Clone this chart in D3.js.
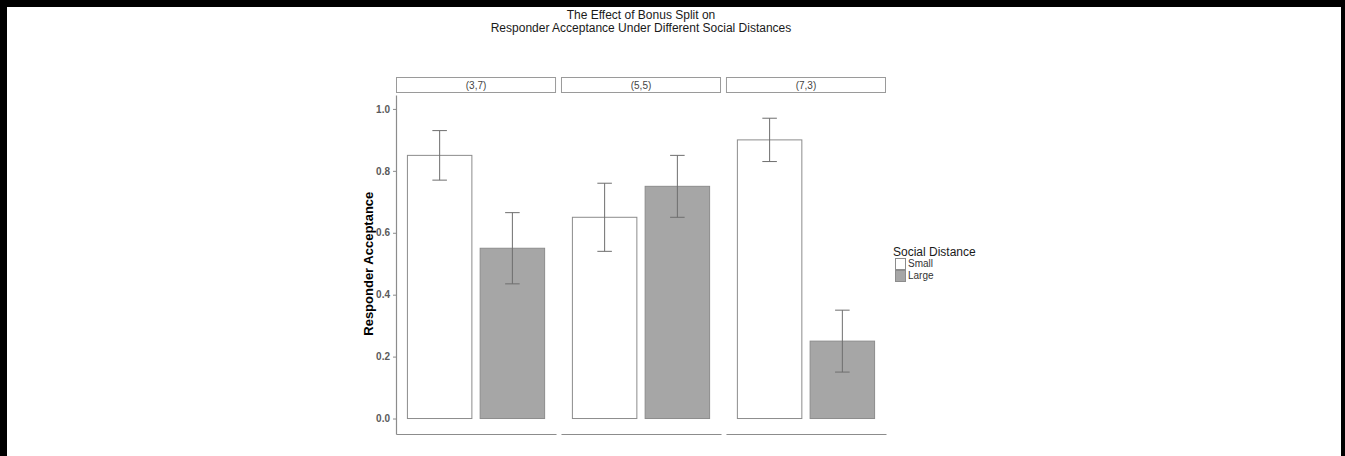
<!DOCTYPE html>
<html>
<head>
<meta charset="utf-8">
<title>Bonus Split and Responder Acceptance</title>
<script src="https://d3js.org/d3.v7.min.js"></script>
<style>
  body { margin: 0; background: #fff; }
  text { font-family: "Liberation Sans", Arial, sans-serif; }
</style>
</head>
<body>
<script>
// data
var splits = ["(3,7)", "(5,5)", "(7,3)"];
var distances = ["Small", "Large"];
var means = [[0.85, 0.55], [0.65, 0.75], [0.90, 0.25]];
var lower = [[0.77, 0.435], [0.54, 0.65], [0.83, 0.15]];
var upper = [[0.93, 0.665], [0.76, 0.85], [0.97, 0.35]];
var yTicks = [0, 0.2, 0.4, 0.6, 0.8, 1.0];
var titleLines = ["The Effect of Bonus Split on", "Responder Acceptance Under Different Social Distances"];

var w = 1345, h = 456;
var fills = { Small: "#ffffff", Large: "#a6a6a6" };

var svg = d3.select("body").append("svg")
  .attr("width", w)
  .attr("height", h);

// frame of the original image
svg.append("rect").attr("x", 0).attr("y", 0).attr("width", w).attr("height", 7).attr("fill", "#000");
svg.append("rect").attr("x", 0).attr("y", 0).attr("width", 7).attr("height", h).attr("fill", "#000");
svg.append("rect").attr("x", w - 4).attr("y", 0).attr("width", 4).attr("height", h).attr("fill", "#000");

var facet = d3.scaleBand()
  .domain(splits)
  .range([396, 886])
  .paddingInner(0.03);

var y = d3.scaleLinear()
  .domain([-0.05, 1.045])
  .range([434, 95]);

// rows for drawing
var rows = [];
splits.forEach(function(s, i) {
  distances.forEach(function(d, j) {
    rows.push({ split: s, dist: d, mean: means[i][j], lo: lower[i][j], hi: upper[i][j] });
  });
});

// title
svg.selectAll(".title")
  .data(titleLines)
  .enter()
  .append("text")
  .attr("class", "title")
  .attr("x", (facet.range()[0] + facet.range()[1]) / 2)
  .attr("y", function(d, i) { return 19 + i * 13; })
  .attr("text-anchor", "middle")
  .attr("font-size", 12)
  .attr("fill", "#1a1a1a")
  .text(function(d) { return d; });

splits.forEach(function(s) {
  var x0 = facet(s);
  var g = svg.append("g").attr("transform", "translate(" + x0 + ",0)");

  var x = d3.scaleBand()
    .domain(distances)
    .range([0, facet.bandwidth()])
    .paddingInner(0.1)
    .paddingOuter(0.15);

  // strip
  g.append("rect")
    .attr("x", 0.5)
    .attr("y", 77.5)
    .attr("width", facet.bandwidth() - 1)
    .attr("height", 15)
    .attr("fill", "#fff")
    .attr("stroke", "#9a9a9a");
  g.append("text")
    .attr("x", facet.bandwidth() / 2)
    .attr("y", 89)
    .attr("text-anchor", "middle")
    .attr("font-size", 10)
    .attr("fill", "#444")
    .text(s);

  var data = rows.filter(function(r) { return r.split === s; });

  g.selectAll(".bar")
    .data(data)
    .enter()
    .append("rect")
    .attr("class", "bar")
    .attr("x", function(d) { return x(d.dist) + 0.5; })
    .attr("y", function(d) { return y(d.mean); })
    .attr("width", x.bandwidth() - 1)
    .attr("height", function(d) { return y(0) - y(d.mean); })
    .attr("fill", function(d) { return fills[d.dist]; })
    .attr("stroke", "#8c8c8c")
    .attr("stroke-width", 1);

  var cap = x.step() * 0.2;
  var eb = g.selectAll(".err")
    .data(data)
    .enter()
    .append("g")
    .attr("class", "err")
    .attr("stroke", "#6e6e6e")
    .attr("stroke-width", 1);
  eb.append("line")
    .attr("x1", function(d) { return x(d.dist) + x.bandwidth() / 2; })
    .attr("x2", function(d) { return x(d.dist) + x.bandwidth() / 2; })
    .attr("y1", function(d) { return y(d.lo); })
    .attr("y2", function(d) { return y(d.hi); });
  eb.append("line")
    .attr("x1", function(d) { return x(d.dist) + x.bandwidth() / 2 - cap / 2; })
    .attr("x2", function(d) { return x(d.dist) + x.bandwidth() / 2 + cap / 2; })
    .attr("y1", function(d) { return y(d.hi); })
    .attr("y2", function(d) { return y(d.hi); });
  eb.append("line")
    .attr("x1", function(d) { return x(d.dist) + x.bandwidth() / 2 - cap / 2; })
    .attr("x2", function(d) { return x(d.dist) + x.bandwidth() / 2 + cap / 2; })
    .attr("y1", function(d) { return y(d.lo); })
    .attr("y2", function(d) { return y(d.lo); });

  // x axis line, no labels
  var xa = g.append("g")
    .attr("transform", "translate(0," + y.range()[0] + ")")
    .call(d3.axisBottom(x).tickSize(0).tickSizeOuter(0).tickFormat(""));
  xa.select(".domain").attr("stroke", "#8c8c8c").attr("stroke-width", 1.2);
});

// y axis
var ya = svg.append("g")
  .attr("transform", "translate(396,0)")
  .call(d3.axisLeft(y).tickValues(yTicks).tickFormat(d3.format(".1f")).tickSize(3).tickSizeOuter(0));
ya.select(".domain").attr("stroke", "#8c8c8c").attr("stroke-width", 1.2);
ya.selectAll(".tick line").attr("stroke", "#8c8c8c");
ya.selectAll(".tick text")
  .attr("font-family", "Liberation Sans, Arial, sans-serif")
  .attr("font-size", 10)
  .attr("font-weight", "bold")
  .attr("fill", "#5a5a5a");

svg.append("text")
  .attr("transform", "translate(373," + (y(0.5)) + ") rotate(-90)")
  .attr("text-anchor", "middle")
  .attr("font-size", 13)
  .attr("font-weight", "bold")
  .attr("fill", "#000")
  .text("Responder Acceptance");

// legend
var lg = svg.append("g").attr("transform", "translate(895,0)");
lg.append("text")
  .attr("x", -2)
  .attr("y", 256)
  .attr("font-size", 12)
  .attr("fill", "#1a1a1a")
  .text("Social Distance");
var items = lg.selectAll(".key")
  .data(distances)
  .enter()
  .append("g")
  .attr("class", "key")
  .attr("transform", function(d, i) { return "translate(0," + (258 + i * 12) + ")"; });
items.append("rect")
  .attr("x", 0.5)
  .attr("y", 0.5)
  .attr("width", 10)
  .attr("height", 11)
  .attr("fill", function(d) { return fills[d]; })
  .attr("stroke", "#8c8c8c");
items.append("text")
  .attr("x", 13)
  .attr("y", 9)
  .attr("font-size", 10)
  .attr("fill", "#333")
  .text(function(d) { return d; });
</script>
</body>
</html>
